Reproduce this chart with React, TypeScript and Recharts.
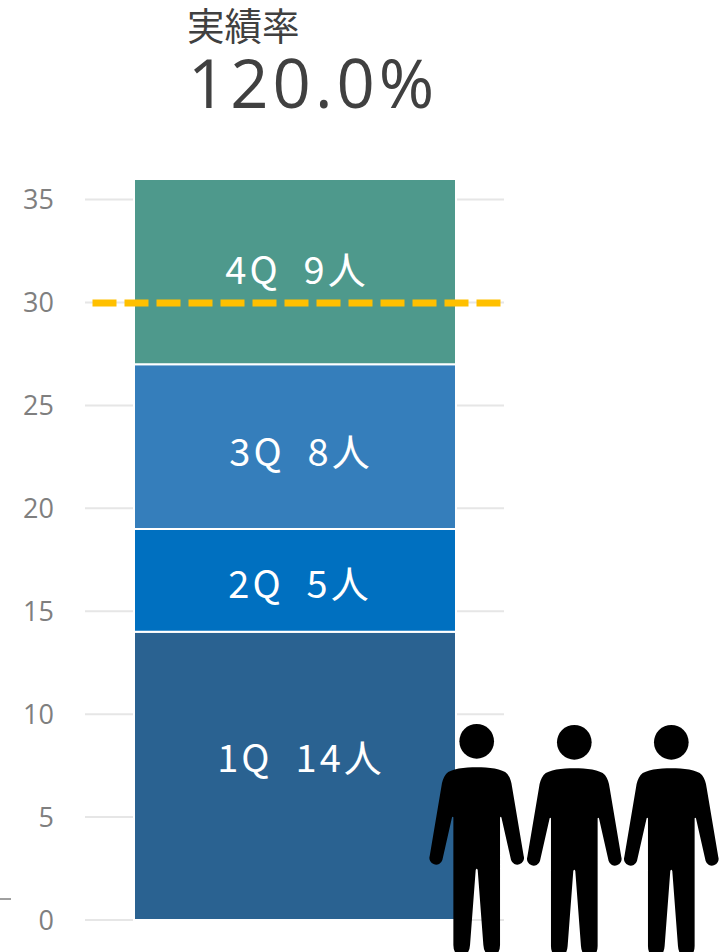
import {
  Bar,
  CartesianGrid,
  ComposedChart,
  LabelList,
  ReferenceLine,
  XAxis,
  YAxis,
} from "recharts";

const quarters = ["1Q", "2Q", "3Q", "4Q"];
const people = [14, 5, 8, 9];
const colors = ["#2A6291", "#0070C0", "#357EBB", "#4E998C"];
const yTicks = [0, 5, 10, 15, 20, 25, 30, 35];
const target = 30;
const rateLabel = "実績率";
const rateValue = "120.0%";

// labels were placed by hand in the original, not centred in their segment
const labelNudgeX = [6, 5, 6, 2];
const labelNudgeY = [-17, 5, 6, -1];

const row: Record<string, string | number> = { name: "実績" };
quarters.forEach((q, i) => {
  row[q] = people[i];
});
const data = [row];

const jp = '"Noto Sans CJK JP", "Open Sans", sans-serif';
const latin = '"Open Sans", "Noto Sans", sans-serif';

const personPath =
  "M0 172 C35 172 78 176 92 192 C100 202 104 215 106 230 L141 438 A19.5 19.5 0 0 1 103 450 L74 322 Q72 318 70 322 L70 705 Q70 736 45 736 Q22 736 20 705 L3 480 Q0 472 -3 480 L-20 705 Q-22 736 -45 736 Q-70 736 -70 705 L-70 322 Q-72 318 -74 322 L-103 450 A19.5 19.5 0 0 1 -141 438 L-106 230 C-104 215 -100 202 -92 192 C-78 176 -35 172 0 172 Z";

function Person({ x, y }: { x: number; y: number }) {
  return (
    <g transform={`translate(${x} ${y}) scale(0.3333)`} fill="#000">
      <circle cx={0} cy={94} r={52} />
      <path d={personPath} />
    </g>
  );
}

function QuarterLabel(props: any) {
  const { x, y, width, height, index } = props;
  return (
    <text
      x={x + width / 2 + labelNudgeX[index]}
      y={y + height / 2 + 13 + labelNudgeY[index]}
      textAnchor="middle"
      fill="#fff"
      fontFamily={jp}
      fontSize={38}
      letterSpacing={3}
      style={{ whiteSpace: "pre" }}
    >
      {`${quarters[index]}  ${people[index]}人`}
    </text>
  );
}

function DashedTarget(props: any) {
  const { x1, x2, y1, y2 } = props;
  return (
    <line
      x1={x1 + 7.5}
      x2={x2 - 3}
      y1={y1 + 0.5}
      y2={y2 + 0.5}
      stroke="#FFC000"
      strokeWidth={7}
      strokeDasharray="24 8"
    />
  );
}

export default function App() {
  return (
    <div style={{ position: "absolute", left: 0, top: 0, width: 725, height: 952, overflow: "hidden", background: "#fff" }}>
      <ComposedChart
        width={725}
        height={952}
        data={data}
        margin={{ top: 179, right: 221, bottom: 32, left: 0 }}
      >
        <CartesianGrid stroke="#E6E6E6" strokeWidth={2} vertical={false} syncWithTicks />
        <XAxis dataKey="name" hide />
        <YAxis
          type="number"
          domain={[0, 36]}
          ticks={yTicks}
          width={85}
          axisLine={false}
          tickLine={false}
          tickSize={0}
          tickMargin={31}
          interval={0}
          tick={{ fill: "#7F7F7F", fontSize: 27, fontFamily: latin }}
        />
        {quarters.map((q, i) => (
          <Bar
            key={q}
            dataKey={q}
            stackId="total"
            fill={colors[i]}
            stroke="#fff"
            strokeWidth={2}
            barSize={322}
            isAnimationActive={false}
          >
            <LabelList content={(p: any) => <QuarterLabel {...p} index={i} />} />
          </Bar>
        ))}
        <ReferenceLine y={target} shape={DashedTarget} />
      </ComposedChart>
      <svg width={725} height={952} style={{ position: "absolute", left: 0, top: 0 }}>
        <text x={187} y={40} fontFamily={jp} fontSize={37.5} fill="#404040">
          {rateLabel}
        </text>
        <text x={188} y={108} fontFamily={latin} fontSize={67} letterSpacing={4} fill="#404040">
          {rateValue}
        </text>
        <line x1={0} x2={11} y1={899} y2={899} stroke="#404040" strokeWidth={1} />
        <Person x={476.7} y={710} />
        <Person x={574.3} y={711} />
        <Person x={671.3} y={711} />
      </svg>
    </div>
  );
}
